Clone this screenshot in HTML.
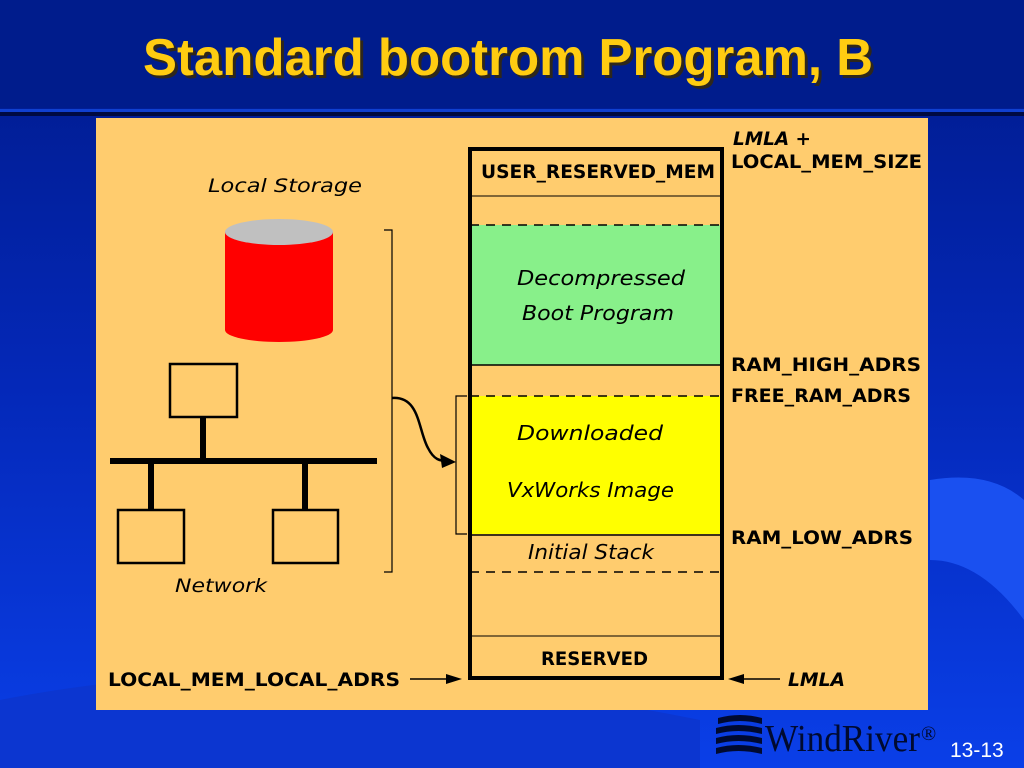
<!DOCTYPE html>
<html><head><style>
html,body{margin:0;padding:0;width:1024px;height:768px;overflow:hidden;background:#0a2fd6}
</style></head><body>
<svg width="1024" height="768" xmlns="http://www.w3.org/2000/svg" style="position:absolute;left:0;top:0">
<defs>
<linearGradient id="bg" x1="0" y1="0" x2="0" y2="1">
<stop offset="0" stop-color="#001a8a"/><stop offset="0.5" stop-color="#0428b8"/><stop offset="1" stop-color="#0a3fe8"/>
</linearGradient>
</defs>
<rect width="1024" height="768" fill="url(#bg)"/>
<rect width="1024" height="108" fill="#001c8c"/>
<path d="M930 480 Q990 470 1024 500 L1024 620 Q980 560 930 560Z" fill="#1a50f0"/>
<path d="M0 700 Q300 640 700 720 L700 768 L0 768Z" fill="#0c36d0"/>
<rect x="0" y="109" width="1024" height="3" fill="#1040d0"/>
<rect x="0" y="112" width="1024" height="4" fill="#000a40"/>
<text x="146" y="78" font-family="Liberation Sans, sans-serif" font-weight="bold" font-size="52" fill="#3a2a00" opacity="0.8" textLength="730" lengthAdjust="spacingAndGlyphs">Standard bootrom Program, B</text>
<text x="143" y="75" font-family="Liberation Sans, sans-serif" font-weight="bold" font-size="52" fill="#ffcc11" textLength="730" lengthAdjust="spacingAndGlyphs">Standard bootrom Program, B</text>
<rect x="96" y="118" width="832" height="592" fill="#ffcc6e"/>
<g font-family="DejaVu Sans, sans-serif" font-size="20" fill="#000" lengthAdjust="spacingAndGlyphs">
<rect x="470" y="225" width="252" height="140" fill="#88f08a"/>
<rect x="470" y="396" width="252" height="138" fill="#ffff00"/>
<rect x="470" y="149" width="252" height="529" fill="none" stroke="#000" stroke-width="4"/>
<line x1="470" y1="196" x2="722" y2="196" stroke="#000" stroke-width="1"/>
<line x1="470" y1="225" x2="722" y2="225" stroke="#000" stroke-width="1.5" stroke-dasharray="9,7"/>
<line x1="470" y1="365" x2="722" y2="365" stroke="#000" stroke-width="1.5"/>
<line x1="470" y1="396" x2="722" y2="396" stroke="#000" stroke-width="1.5" stroke-dasharray="9,7"/>
<line x1="470" y1="535" x2="722" y2="535" stroke="#000" stroke-width="1.5"/>
<line x1="470" y1="572" x2="722" y2="572" stroke="#000" stroke-width="1.5" stroke-dasharray="9,7"/>
<line x1="470" y1="636" x2="722" y2="636" stroke="#000" stroke-width="1"/>
<text x="481" y="178" font-weight="bold" font-size="19" textLength="234" lengthAdjust="spacingAndGlyphs">USER_RESERVED_MEM</text>
<text x="517" y="285" font-style="italic" textLength="168" lengthAdjust="spacingAndGlyphs">Decompressed</text>
<text x="522" y="320" font-style="italic" textLength="152" lengthAdjust="spacingAndGlyphs">Boot Program</text>
<text x="517" y="440" font-style="italic" textLength="146" lengthAdjust="spacingAndGlyphs">Downloaded</text>
<text x="507" y="497" font-style="italic" textLength="167" lengthAdjust="spacingAndGlyphs">VxWorks Image</text>
<text x="528" y="559" font-style="italic" textLength="126" lengthAdjust="spacingAndGlyphs">Initial Stack</text>
<text x="541" y="665" font-weight="bold" font-size="19" textLength="107" lengthAdjust="spacingAndGlyphs">RESERVED</text>
<text x="733" y="145" font-weight="bold" font-style="italic" font-size="19" textLength="78" lengthAdjust="spacingAndGlyphs">LMLA +</text>
<g font-weight="bold" font-size="19">
<text x="731" y="168" textLength="191" lengthAdjust="spacingAndGlyphs">LOCAL_MEM_SIZE</text>
<text x="731" y="371" textLength="190" lengthAdjust="spacingAndGlyphs">RAM_HIGH_ADRS</text>
<text x="731" y="402" textLength="180" lengthAdjust="spacingAndGlyphs">FREE_RAM_ADRS</text>
<text x="731" y="544" textLength="182" lengthAdjust="spacingAndGlyphs">RAM_LOW_ADRS</text>
<text x="108" y="686" textLength="292" lengthAdjust="spacingAndGlyphs">LOCAL_MEM_LOCAL_ADRS</text>
</g>
<text x="788" y="686" font-weight="bold" font-style="italic" font-size="19" textLength="57" lengthAdjust="spacingAndGlyphs">LMLA</text>
<line x1="410" y1="679" x2="450" y2="679" stroke="#000" stroke-width="1.5"/>
<polygon points="462,679 446,674 446,684" fill="#000"/>
<line x1="740" y1="679" x2="780" y2="679" stroke="#000" stroke-width="1.5"/>
<polygon points="728,679 744,674 744,684" fill="#000"/>
<text x="208" y="192" font-style="italic" font-size="19" textLength="154" lengthAdjust="spacingAndGlyphs">Local Storage</text>
<path d="M225 232 L225 330 A54 12 0 0 0 333 330 L333 232Z" fill="#ff0000"/>
<ellipse cx="279" cy="232" rx="54" ry="13" fill="#c0c0c0"/>
<rect x="170" y="364" width="67" height="53" fill="none" stroke="#000" stroke-width="2.5"/>
<line x1="203" y1="417" x2="203" y2="460" stroke="#000" stroke-width="6"/>
<line x1="110" y1="461" x2="377" y2="461" stroke="#000" stroke-width="6"/>
<line x1="151" y1="461" x2="151" y2="510" stroke="#000" stroke-width="6"/>
<line x1="305" y1="461" x2="305" y2="510" stroke="#000" stroke-width="6"/>
<rect x="118" y="510" width="66" height="53" fill="none" stroke="#000" stroke-width="2.5"/>
<rect x="273" y="510" width="65" height="53" fill="none" stroke="#000" stroke-width="2.5"/>
<text x="175" y="592" font-style="italic" font-size="19" textLength="92" lengthAdjust="spacingAndGlyphs">Network</text>
<polyline points="384,230 392,230 392,572 384,572" fill="none" stroke="#000" stroke-width="1.2"/>
<polyline points="467,396 456,396 456,534 467,534" fill="none" stroke="#000" stroke-width="1.2"/>
<path d="M392 398 C420 396 418 430 428 448 C434 460 440 461 448 461" fill="none" stroke="#000" stroke-width="2.5"/>
<polygon points="456,462 440,454 442,468" fill="#000"/>
</g>
<g fill="#000a30">
<path d="M718 718 Q740 712 762 718 L762 724 Q740 718 718 724Z"/>
<path d="M716 728 Q738 722 762 728 L762 734 Q738 728 716 734Z"/>
<path d="M716 738 Q738 732 762 738 L762 744 Q738 738 716 744Z"/>
<path d="M716 748 Q738 742 762 748 L762 754 Q738 748 716 754Z"/>
</g>
<text x="765" y="751" font-family="Liberation Serif, serif" font-size="38" fill="#000a30" textLength="155" lengthAdjust="spacingAndGlyphs">WindRiver</text>
<text x="921" y="740" font-family="Liberation Serif, serif" font-size="20" fill="#000a30">®</text>
<text x="950" y="757" font-family="Liberation Sans, sans-serif" font-size="21" fill="#fff">13-13</text>
</svg>
</body></html>
